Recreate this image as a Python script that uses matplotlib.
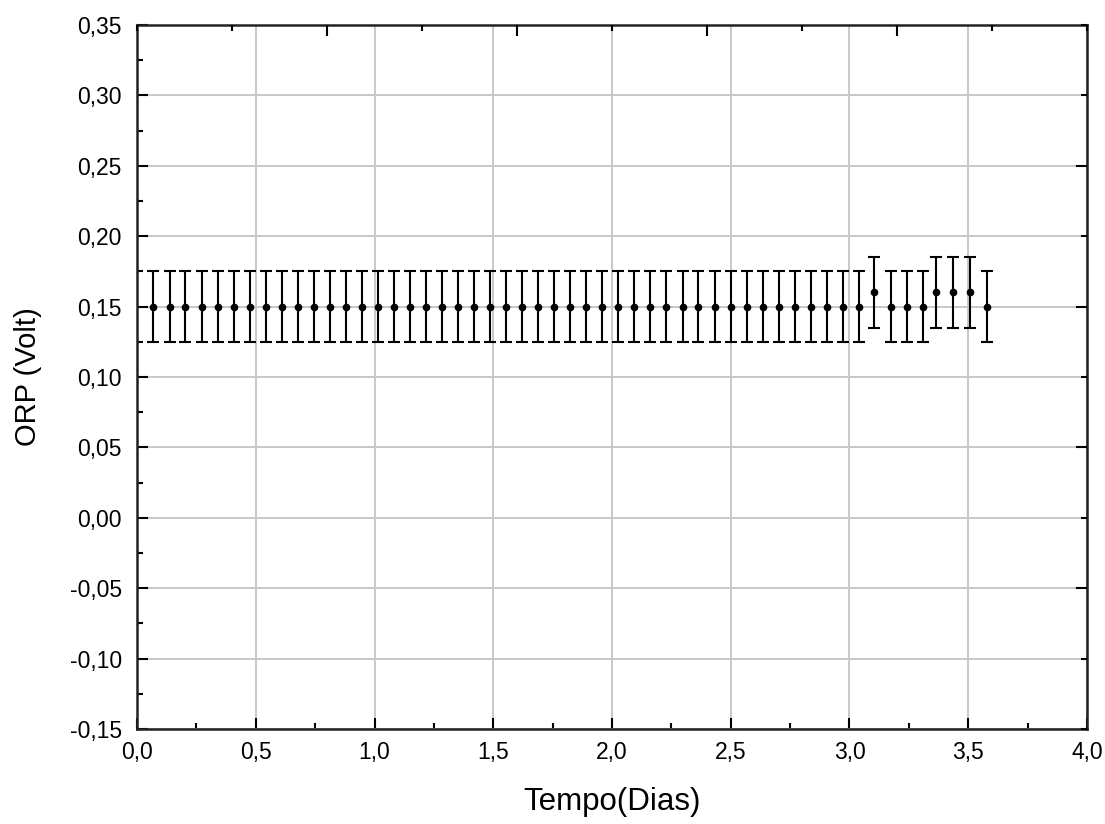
import matplotlib

matplotlib.use("Agg")
import matplotlib.pyplot as plt
from matplotlib.ticker import MultipleLocator, FuncFormatter

# tempo em dias, ORP em volt, erro em volt
tempo_dias = [
    0.069, 0.137, 0.204, 0.272, 0.339, 0.407, 0.474, 0.542, 0.609, 0.677,
    0.744, 0.812, 0.879, 0.947, 1.014, 1.082, 1.149, 1.217, 1.284, 1.352,
    1.419, 1.487, 1.554, 1.622, 1.689, 1.757, 1.824, 1.892, 1.959, 2.027,
    2.094, 2.162, 2.229, 2.297, 2.364, 2.432, 2.499, 2.567, 2.634, 2.702,
    2.769, 2.837, 2.904, 2.972, 3.039, 3.103, 3.174, 3.242, 3.309, 3.364,
    3.437, 3.507, 3.579,
]
orp_volt = [0.15] * 45 + [0.16, 0.15, 0.15, 0.15, 0.16, 0.16, 0.16, 0.15]
erro_volt = [0.025] * 53

X_TICKS = [0.0, 0.5, 1.0, 1.5, 2.0, 2.5, 3.0, 3.5, 4.0]
Y_TICKS = [-0.15, -0.10, -0.05, 0.00, 0.05, 0.10, 0.15, 0.20, 0.25, 0.30, 0.35]


def virgula(casas):
    return FuncFormatter(lambda v, pos: f"{v:.{casas}f}".replace(".", ","))


def main():
    plt.rcParams["font.family"] = ["Liberation Sans", "DejaVu Sans"]

    fig = plt.figure(figsize=(11.05, 8.24), dpi=100)
    ax = fig.add_axes([0.124, 0.1153, 0.8597, 0.8544])

    ax.errorbar(
        tempo_dias,
        orp_volt,
        yerr=erro_volt,
        fmt="o",
        color="black",
        markersize=4.5,
        elinewidth=1.5,
        capsize=4.3,
        capthick=1.5,
        zorder=3,
    )

    ax.set_xlim(0, 4.0)
    ax.set_ylim(-0.15, 0.35)
    ax.set_xticks(X_TICKS)
    ax.set_yticks(Y_TICKS)
    ax.xaxis.set_minor_locator(MultipleLocator(0.25))
    ax.yaxis.set_minor_locator(MultipleLocator(0.025))
    ax.xaxis.set_major_formatter(virgula(1))
    ax.yaxis.set_major_formatter(virgula(2))

    ax.grid(True, which="major", color="#c8c8c8", linewidth=1.4, zorder=0)
    ax.set_axisbelow(True)

    ax.tick_params(which="both", direction="in", width=1.5, colors="black",
                   labelsize=16.5)
    ax.tick_params(which="major", length=8)
    ax.tick_params(which="minor", length=4)
    ax.tick_params(axis="x", pad=9)
    ax.tick_params(axis="y", pad=11)

    for spine in ax.spines.values():
        spine.set_linewidth(1.8)
        spine.set_color("#222222")

    # eixos auxiliares (topo e direita) com escala própria
    ax_top = ax.twiny()
    ax_top.set_xlim(0, 1)
    ax_top.set_xticks([0.2, 0.4, 0.6, 0.8])
    ax_top.xaxis.set_minor_locator(MultipleLocator(0.1))
    ax_top.tick_params(which="both", direction="in", width=1.5, labeltop=False)
    ax_top.tick_params(which="major", length=8)
    ax_top.tick_params(which="minor", length=4)

    ax_right = ax.twinx()
    ax_right.set_ylim(0, 1)
    ax_right.set_yticks([0.2, 0.4, 0.6, 0.8])
    ax_right.yaxis.set_minor_locator(MultipleLocator(0.1))
    ax_right.tick_params(which="both", direction="in", width=1.5, labelright=False)
    ax_right.tick_params(which="major", length=8)
    ax_right.tick_params(which="minor", length=4)

    for extra in (ax_top, ax_right):
        for spine in extra.spines.values():
            spine.set_visible(False)

    ax.set_xlabel("Tempo(Dias)", fontsize=22.5, labelpad=16)
    ax.set_ylabel("ORP (Volt)", fontsize=21, labelpad=20)

    fig.savefig("out.png", dpi=100)
    plt.close(fig)


if __name__ == "__main__":
    main()
